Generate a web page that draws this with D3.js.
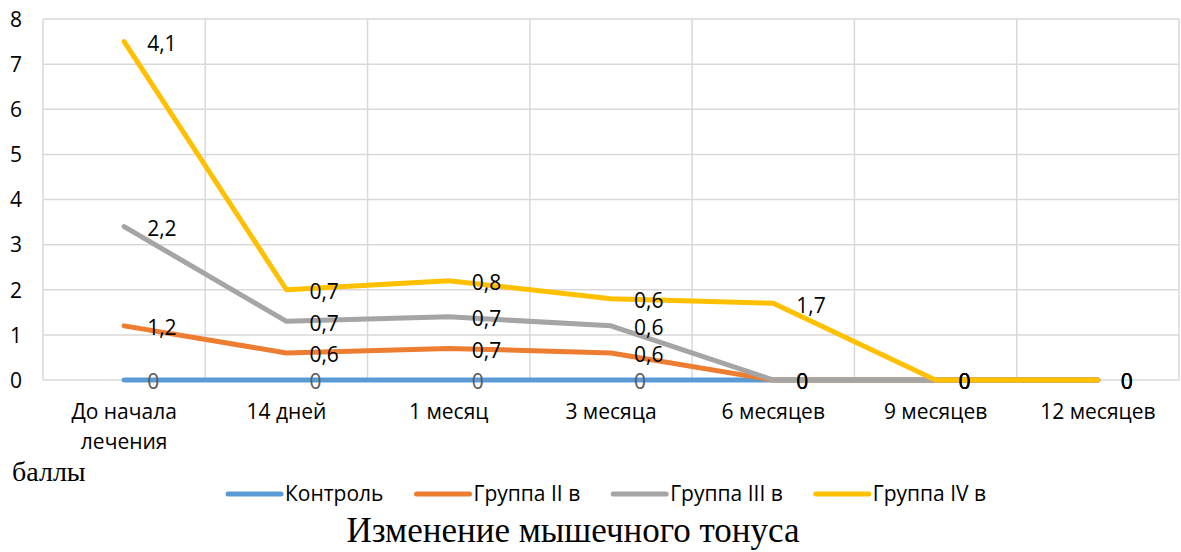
<!DOCTYPE html>
<html>
<head>
<meta charset="utf-8">
<script src="https://cdn.jsdelivr.net/npm/d3@7"></script>
<style>
  html, body { margin: 0; padding: 0; background: #fff; }
  svg { display: block; }
</style>
</head>
<body>
<svg id="chart" width="1181" height="552"></svg>
<script>
// ---- data ----
const categories = ["До начала лечения", "14 дней", "1 месяц", "3 месяца", "6 месяцев", "9 месяцев", "12 месяцев"];
const seriesNames = ["Контроль", "Группа II в", "Группа III в", "Группа IV в"];
const seriesColors = ["#5B9BD5", "#ED7D31", "#A5A5A5", "#FFC000"];
const controlValues = [0, 0, 0, 0, 0, 0, 0];
const group2Values = [1.2, 0.6, 0.7, 0.6, 0, 0, 0];
const group3Values = [3.4, 1.3, 1.4, 1.2, 0, 0, 0];
const group4Values = [7.5, 2.0, 2.2, 1.8, 1.7, 0, 0];
const controlLabels = ["0", "0", "0", "0", "0", "0", "0"];
const group2Labels = ["1,2", "0,6", "0,7", "0,6", "0", "0", "0"];
const group3Labels = ["2,2", "0,7", "0,7", "0,6", "0", "0", "0"];
const group4Labels = ["4,1", "0,7", "0,8", "0,6", "1,7", "0", "0"];
const yTicks = [0, 1, 2, 3, 4, 5, 6, 7, 8];
const yAxisTitle = "баллы";
const chartTitle = "Изменение мышечного тонуса";

const series = [
  { name: seriesNames[0], color: seriesColors[0], values: controlValues, labels: controlLabels, labelColor: "#595959" },
  { name: seriesNames[1], color: seriesColors[1], values: group2Values, labels: group2Labels, labelColor: "#000" },
  { name: seriesNames[2], color: seriesColors[2], values: group3Values, labels: group3Labels, labelColor: "#000" },
  { name: seriesNames[3], color: seriesColors[3], values: group4Values, labels: group4Labels, labelColor: "#000" }
];

// ---- layout ----
const FONT = "'Open Sans', 'Noto Sans', sans-serif";
const FS = 21;
const plot = { left: 43, right: 1179, top: 19, bottom: 380 };

const svg = d3.select("#chart");

const x = d3.scaleBand().domain(categories).range([plot.left, plot.right]).paddingInner(0).paddingOuter(0);
const y = d3.scaleLinear().domain([0, 8]).range([plot.bottom, plot.top]);
const cx = c => x(c) + x.bandwidth() / 2;

// gridlines
const grid = svg.append("g");
grid.selectAll("line.h").data(yTicks).join("line")
  .attr("x1", plot.left).attr("x2", plot.right)
  .attr("y1", d => y(d)).attr("y2", d => y(d))
  .attr("stroke", "#D9D9D9").attr("stroke-width", 1.5);
const vb = categories.map(c => x(c)).concat([plot.right]);
grid.selectAll("line.v").data(vb).join("line")
  .attr("x1", d => d).attr("x2", d => d)
  .attr("y1", plot.top).attr("y2", plot.bottom)
  .attr("stroke", "#D9D9D9").attr("stroke-width", 1.5);

// y axis labels
const yAxis = d3.axisLeft(y).tickValues(yTicks).tickSize(0).tickPadding(0).tickFormat(d3.format("d"));
const yg = svg.append("g").attr("transform", `translate(22,0)`).call(yAxis);
yg.select(".domain").remove();
yg.selectAll("text").attr("font-family", FONT).attr("font-size", FS).attr("fill", "#000").attr("dy", "0.35em");

// x axis labels (wrapped)
const xg = svg.append("g");
const xLabelLines = c => c === "До начала лечения" ? ["До начала", "лечения"] : [c];
categories.forEach(c => {
  const t = xg.append("text").attr("x", cx(c)).attr("y", 419)
    .attr("text-anchor", "middle").attr("font-family", FONT).attr("font-size", FS).attr("fill", "#000");
  xLabelLines(c).forEach((ln, i) => {
    t.append("tspan").attr("x", cx(c)).attr("dy", i === 0 ? 0 : 30).text(ln);
  });
});

// lines
const line = d3.line().x((d, i) => cx(categories[i])).y(d => y(d));
series.forEach(s => {
  svg.append("path").datum(s.values)
    .attr("d", line).attr("fill", "none")
    .attr("stroke", s.color).attr("stroke-width", 5)
    .attr("stroke-linejoin", "round").attr("stroke-linecap", "round");
});

// data labels
series.forEach(s => {
  svg.append("g").selectAll("text").data(s.values).join("text")
    .attr("x", (d, i) => cx(categories[i]) + 23)
    .attr("y", d => y(d) + 2)
    .attr("dy", "0.35em")
    .attr("font-family", FONT).attr("font-size", FS).attr("fill", s.labelColor)
    .text((d, i) => s.labels[i]);
});

// y-axis title
svg.append("text").attr("x", 12).attr("y", 481)
  .attr("font-family", "'Liberation Serif', 'Times New Roman', serif").attr("font-size", 28).attr("fill", "#000")
  .text(yAxisTitle);

// legend
const leg = svg.append("g");
let lx = 228;
const ly = 494;
series.forEach(s => {
  leg.append("line").attr("x1", lx).attr("x2", lx + 53).attr("y1", ly).attr("y2", ly)
    .attr("stroke", s.color).attr("stroke-width", 5).attr("stroke-linecap", "round");
  const t = leg.append("text").attr("x", lx + 57).attr("y", ly).attr("dy", "0.35em")
    .attr("font-family", FONT).attr("font-size", FS).attr("fill", "#000").text(s.name);
  const w = t.node().getComputedTextLength();
  lx = lx + 57 + w + 33;
});

// chart title
svg.append("text").attr("x", 573).attr("y", 542).attr("text-anchor", "middle")
  .attr("font-family", "'Liberation Serif', 'Times New Roman', serif").attr("font-size", 35).attr("fill", "#000")
  .text(chartTitle);
</script>
</body>
</html>
